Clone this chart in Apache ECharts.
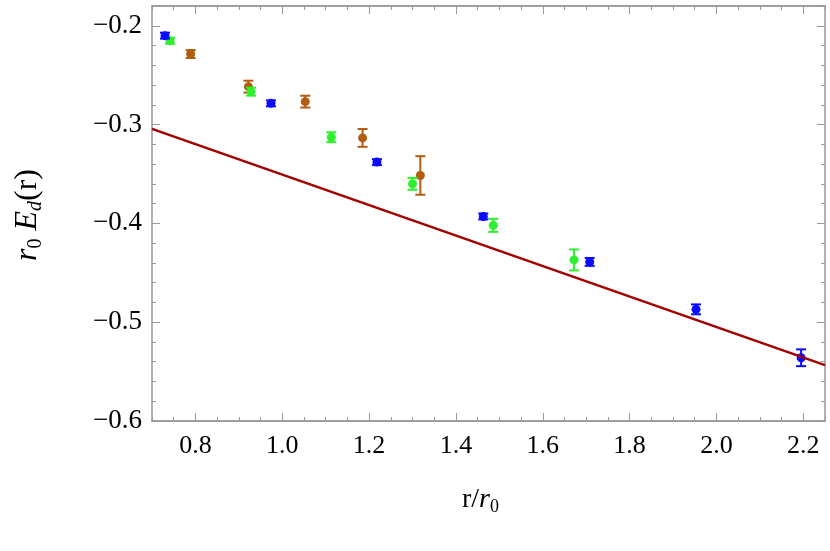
<!DOCTYPE html>
<html><head><meta charset="utf-8">
<script src="https://cdn.jsdelivr.net/npm/echarts@6/dist/echarts.min.js"></script>
<style>body{margin:0}#c{width:830px;height:551px}</style></head>
<body><div id="c"></div>
<script>
// data
var blueX = [0.730, 0.974, 1.218, 1.463, 1.708, 1.953, 2.195];
var blueY = [-0.210, -0.2785, -0.338, -0.393, -0.439, -0.487, -0.536];
var blueErr = [0.003, 0.003, 0.003, 0.003, 0.004, 0.005, 0.0085];
var greenX = [0.7415, 0.928, 1.113, 1.300, 1.486, 1.672];
var greenY = [-0.2152, -0.2667, -0.3128, -0.360, -0.402, -0.437];
var greenErr = [0.003, 0.004, 0.005, 0.006, 0.0066, 0.0106];
var brownX = [0.789, 0.922, 1.053, 1.185, 1.318];
var brownY = [-0.2286, -0.2616, -0.2768, -0.3135, -0.3515];
var brownErr = [0.004, 0.006, 0.006, 0.009, 0.0195];
var lineX = [0.7, 2.25];
var lineY = [-0.3044, -0.5434];
var xMajor = [0.8, 1.0, 1.2, 1.4, 1.6, 1.8, 2.0, 2.2];

var FONT = '"Liberation Serif", "DejaVu Serif", serif';
var chart = echarts.init(document.getElementById('c'));

function pts(xs, ys, es) {
  return xs.map(function (x, i) { return [x, ys[i], es[i]]; });
}
function errSeries(xs, ys, es, color) {
  return {
    type: 'custom', xAxisIndex: 0, yAxisIndex: 0,
    data: pts(xs, ys, es),
    renderItem: function (params, api) {
      var x = api.value(0), y = api.value(1), e = api.value(2);
      var top = api.coord([x, y + e]), bot = api.coord([x, y - e]), c = api.coord([x, y]);
      var w = 5, st = { stroke: color, lineWidth: 2 };
      return {
        type: 'group', children: [
          { type: 'line', shape: { x1: top[0], y1: top[1], x2: bot[0], y2: bot[1] }, style: st },
          { type: 'line', shape: { x1: top[0] - w, y1: top[1], x2: top[0] + w, y2: top[1] }, style: st },
          { type: 'line', shape: { x1: bot[0] - w, y1: bot[1], x2: bot[0] + w, y2: bot[1] }, style: st },
          { type: 'circle', shape: { cx: c[0], cy: c[1], r: 4.5 }, style: { fill: color } }
        ]
      };
    }
  };
}
var axLine = { show: true, lineStyle: { color: '#999', width: 1.5 } };
function xAx(pos, major, label) {
  return {
    type: 'value', position: pos, min: 0.7, max: 2.25, interval: 0.05,
    axisLine: axLine, splitLine: { show: false },
    axisTick: major ? { inside: true, length: 8, customValues: xMajor, lineStyle: { color: '#999' } }
                    : { inside: true, length: 4, lineStyle: { color: '#999' } },
    axisLabel: label ? { customValues: xMajor, fontFamily: FONT, fontSize: 26, color: '#000', margin: 12,
                         formatter: function (v) { return v.toFixed(1); } } : { show: false }
  };
}
function yAx(pos, label) {
  return {
    type: 'value', position: pos, min: -0.6, max: -0.18, interval: 0.1,
    axisLine: axLine, splitLine: { show: false },
    axisTick: { inside: true, length: 8, lineStyle: { color: '#999' } },
    minorTick: { show: true, splitNumber: 5, length: 4, lineStyle: { color: '#999' } },
    axisLabel: label ? { fontFamily: FONT, fontSize: 27, color: '#000', margin: 10,
                         formatter: function (v) { return '\u2212' + Math.abs(v).toFixed(1); } } : { show: false }
  };
}
chart.setOption({
  animation: false,
  grid: { left: 152, right: 5, top: 6, bottom: 130 },
  xAxis: [xAx('bottom', true, true), xAx('bottom', false, false), xAx('top', true, false), xAx('top', false, false)],
  yAxis: [yAx('left', true), yAx('right', false)],
  graphic: [
    { type: 'text', left: 462, top: 486, style: { rich: {
        n: { fontFamily: FONT, fontSize: 28, fill: '#000' },
        i: { fontFamily: FONT, fontSize: 28, fontStyle: 'italic', fill: '#000' },
        s: { fontFamily: FONT, fontSize: 18, fill: '#000', padding: [14, 0, 0, 0] } },
        text: '{n|r/}{i|r}{s|0}' } },
    { type: 'text', x: 28, y: 215, rotation: Math.PI / 2, style: { rich: {
        i: { fontFamily: FONT, fontSize: 32, fontStyle: 'italic', fill: '#000' },
        n: { fontFamily: FONT, fontSize: 32, fill: '#000' },
        s: { fontFamily: FONT, fontSize: 20, fill: '#000', padding: [16, 0, 0, 0] },
        si: { fontFamily: FONT, fontSize: 20, fontStyle: 'italic', fill: '#000', padding: [16, 0, 0, 0] } },
        text: '{i|r}{s|0}{n| }{i|E}{si|d}{n|(r)}', align: 'center', verticalAlign: 'middle' } }
  ],
  series: [
    { type: 'line', data: lineX.map(function (x, i) { return [x, lineY[i]]; }), symbol: 'none',
      lineStyle: { color: '#a50000', width: 2.5 } },
    errSeries(brownX, brownY, brownErr, '#b25c12'),
    errSeries(greenX, greenY, greenErr, '#2ef02e'),
    errSeries(blueX, blueY, blueErr, '#0a0aff')
  ]
});
</script></body></html>
